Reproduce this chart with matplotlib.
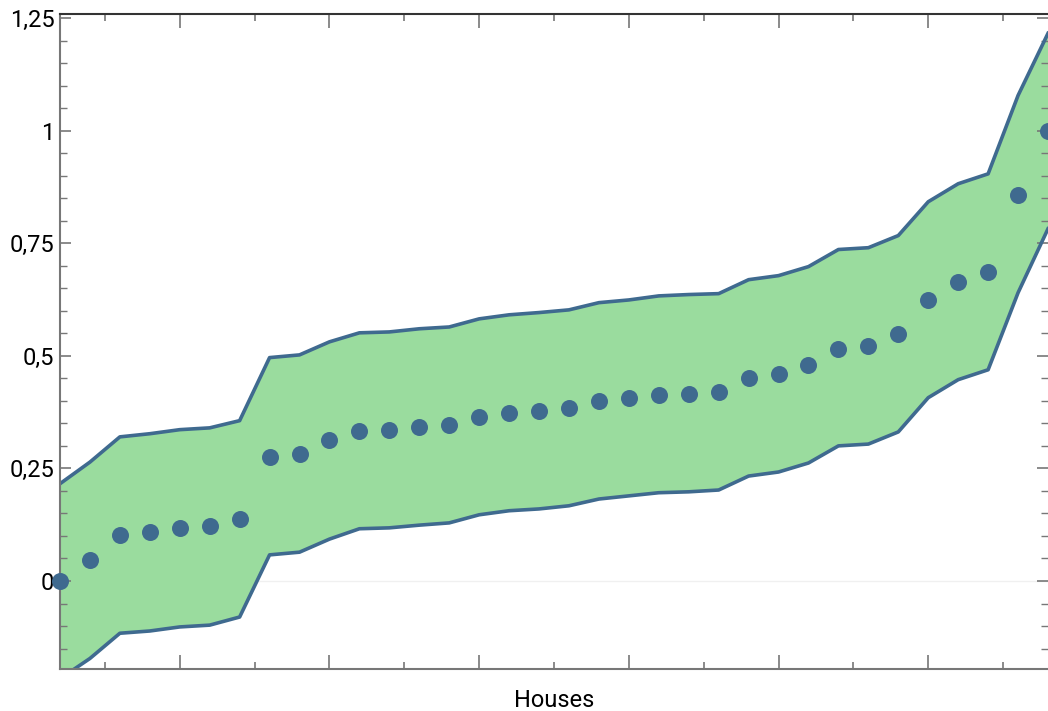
import matplotlib
matplotlib.use("Agg")
import matplotlib.pyplot as plt
from matplotlib.ticker import MultipleLocator, FuncFormatter

plt.rcParams["font.family"] = ["Roboto", "DejaVu Sans"]

# house index (sorted) and estimated value with its band
houses = list(range(1, 35))
value = [0.0, 0.047, 0.102, 0.109, 0.118, 0.122, 0.138, 0.276, 0.282, 0.313,
         0.333, 0.336, 0.342, 0.347, 0.364, 0.373, 0.378, 0.384, 0.400, 0.407,
         0.413, 0.416, 0.420, 0.451, 0.460, 0.480, 0.516, 0.522, 0.549, 0.624,
         0.664, 0.687, 0.858, 1.0]
upper = [0.216, 0.264, 0.320, 0.327, 0.336, 0.340, 0.356, 0.496, 0.502, 0.531,
         0.551, 0.553, 0.560, 0.564, 0.582, 0.591, 0.596, 0.602, 0.618, 0.624,
         0.633, 0.636, 0.638, 0.669, 0.678, 0.698, 0.736, 0.740, 0.767, 0.842,
         0.882, 0.904, 1.078, 1.216]
lower = [-0.217, -0.172, -0.116, -0.111, -0.102, -0.098, -0.080, 0.058, 0.064, 0.093,
         0.116, 0.118, 0.124, 0.129, 0.147, 0.156, 0.160, 0.167, 0.182, 0.189,
         0.196, 0.198, 0.202, 0.233, 0.242, 0.262, 0.300, 0.304, 0.331, 0.407,
         0.447, 0.469, 0.640, 0.782]

fill_c = "#9adc9e"
line_c = "#3f6a8f"

fig = plt.figure(figsize=(10.48, 7.11), dpi=100)
ax = fig.add_axes([60 / 1048, 42 / 711, 988 / 1048, 655 / 711])

ax.axhline(0, color="#f0f0f0", lw=1, zorder=0)
ax.fill_between(houses, lower, upper, color=fill_c, lw=0, zorder=1)
ax.plot(houses, upper, color=line_c, lw=2.6, zorder=2)
ax.plot(houses, lower, color=line_c, lw=2.6, zorder=2)
ax.scatter(houses, value, s=150, color=line_c, zorder=3, clip_on=False, lw=0)

ax.set_xlim(1, 34)
ax.set_ylim(-0.1954, 1.2589)

ax.xaxis.set_major_locator(MultipleLocator(5))
ax.xaxis.set_minor_locator(MultipleLocator(2.5))
ax.yaxis.set_major_locator(MultipleLocator(0.25))
ax.yaxis.set_minor_locator(MultipleLocator(0.05))
ax.yaxis.set_major_formatter(FuncFormatter(lambda v, p: f"{v:g}".replace(".", ",")))
ax.set_xticklabels([])

ax.tick_params(which="both", direction="in", top=True, right=True, color="#777777",
               labelsize=17, labelcolor="black")
ax.tick_params(axis="x", which="major", length=10, width=1.2)
ax.tick_params(axis="x", which="minor", length=5, width=1.2)
ax.tick_params(axis="y", which="major", length=8, width=1.2, pad=4)
ax.tick_params(axis="y", which="minor", length=5, width=1)

for s in ["left", "bottom"]:
    ax.spines[s].set_color("#777777")
    ax.spines[s].set_linewidth(1.5)
ax.spines["top"].set_color("#333333")
ax.spines["top"].set_linewidth(1.5)
ax.spines["right"].set_visible(False)

ax.set_xlabel("Houses", fontsize=17, labelpad=11)

fig.savefig("out.png", dpi=100)
